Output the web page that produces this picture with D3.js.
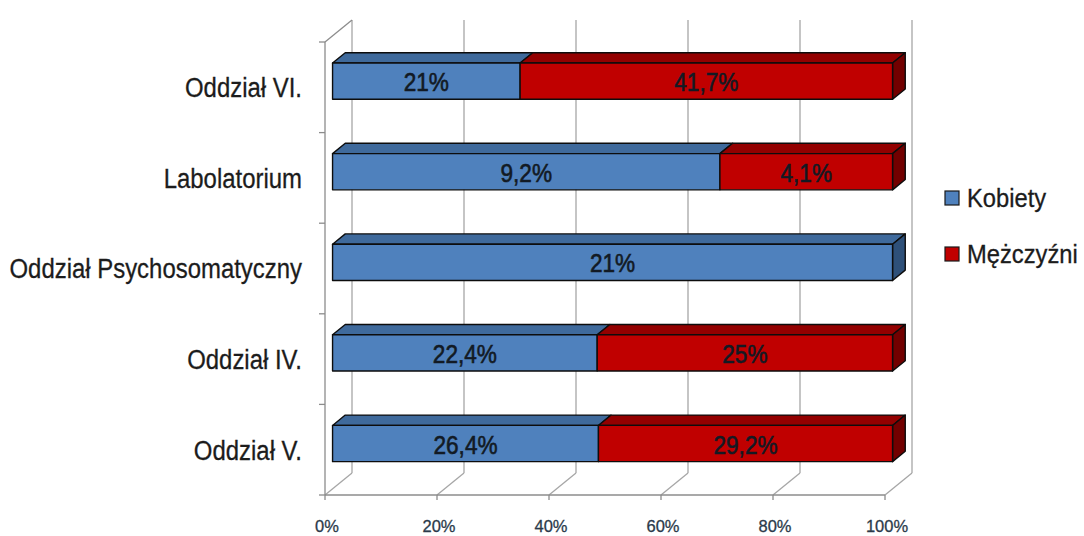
<!DOCTYPE html>
<html>
<head>
<meta charset="utf-8">
<script src="https://cdn.jsdelivr.net/npm/d3@7"></script>
<style>
  html, body { margin: 0; padding: 0; background: #fff; }
  svg { display: block; }
  text { font-family: "Liberation Sans", Arial, sans-serif; }
</style>
</head>
<body>
<svg id="chart" width="1084" height="536"></svg>
<script>
// Departments, top to bottom
const categories = ["Oddział VI.", "Labolatorium", "Oddział Psychosomatyczny", "Oddział IV.", "Oddział V."];
// Shares per department (percent labels), women and men
const kobiety   = [21, 9.2, 21, 22.4, 26.4];
const mezczyzni = [41.7, 4.1, 0, 25, 29.2];
const seriesNames = ["Kobiety", "Mężczyźni"];
const tickValues = [0, 0.2, 0.4, 0.6, 0.8, 1];
const tickLabels = ["0%", "20%", "40%", "60%", "80%", "100%"];

const svg = d3.select("#chart");

// Plot box (front plane) and depth vector for the 3D look
const plotLeft = 325, plotRight = 885, plotTop = 42, plotBottom = 495;
const depth = { dx: 27, dy: -22 };
const zFront = 0.28, zBack = 0.75;   // bar position inside the depth

const x = d3.scaleLinear().domain([0, 1]).range([plotLeft, plotRight]);
const y = d3.scaleBand().domain(categories).range([plotTop, plotBottom]).paddingInner(0.6).paddingOuter(0.3);

const proj = (px, py, z) => [px + z * depth.dx, py + z * depth.dy];

const gridColor = "#a6a6a6";
const axisColor = "#8c8c8c";

// Condensed text: horizontally squeezed glyphs
function label(g, tx, ty, str, opts) {
  const t = g.append("text")
    .attr("transform", `translate(${tx},${ty}) scale(${opts.sx},1)`)
    .attr("text-anchor", opts.anchor || "start")
    .attr("dy", opts.dy || "0.35em")
    .attr("font-size", opts.size)
    .attr("fill", opts.fill || "#1e1e1e")
    .text(str);
  if (opts.bold) t.attr("stroke", opts.fill || "#1e1e1e").attr("stroke-width", opts.bold);
  return t;
}

// Back wall gridlines and floor diagonals
const grid = svg.append("g");
tickValues.forEach(v => {
  const [bx, byTop] = proj(x(v), plotTop, 1);
  const [, byBot] = proj(x(v), plotBottom, 1);
  grid.append("line").attr("x1", bx).attr("x2", bx).attr("y1", byTop).attr("y2", byBot)
    .attr("stroke", gridColor).attr("stroke-width", 1.3);
  grid.append("line").attr("x1", x(v)).attr("y1", plotBottom).attr("x2", bx).attr("y2", byBot)
    .attr("stroke", gridColor).attr("stroke-width", 1.3);
});
// Left wall: top diagonal
{
  const [bx, by] = proj(x(0), plotTop, 1);
  grid.append("line").attr("x1", x(0)).attr("y1", plotTop).attr("x2", bx).attr("y2", by)
    .attr("stroke", axisColor).attr("stroke-width", 1.3);
}
// Floor front edge
grid.append("line").attr("x1", x(0)).attr("x2", x(1)).attr("y1", plotBottom).attr("y2", plotBottom)
  .attr("stroke", axisColor).attr("stroke-width", 1.3);

// Category axis (front left edge) with ticks
const yAxisG = svg.append("g");
yAxisG.append("line").attr("x1", x(0)).attr("x2", x(0)).attr("y1", plotTop).attr("y2", plotBottom)
  .attr("stroke", axisColor).attr("stroke-width", 1.3);
const bounds = categories.map(c => y(c) - y.step() * y.paddingInner() / 2).concat([plotBottom]);
bounds.forEach(b => {
  yAxisG.append("line").attr("x1", x(0) - 6).attr("x2", x(0)).attr("y1", b).attr("y2", b)
    .attr("stroke", axisColor).attr("stroke-width", 1.3);
});
categories.forEach(c => {
  label(yAxisG, 302, y(c) + y.bandwidth() / 2, c,
    { anchor: "end", size: 28, sx: 0.855, fill: "#1c1c1c", bold: 0.3 });
});

// Value axis ticks and labels
const xAxisG = svg.append("g");
tickValues.forEach((v, i) => {
  xAxisG.append("line").attr("x1", x(v)).attr("x2", x(v)).attr("y1", plotBottom).attr("y2", plotBottom + 5)
    .attr("stroke", axisColor).attr("stroke-width", 1.3);
  label(xAxisG, x(v) + 2, 526, tickLabels[i],
    { anchor: "middle", size: 17, sx: 0.97, fill: "#2b3a4a", bold: 0.3 });
});

// Stacked data normalised to 100%
const rows = categories.map((c, i) => ({ cat: c, Kobiety: kobiety[i], "Mężczyźni": mezczyzni[i] }));
const stack = d3.stack().keys(seriesNames).offset(d3.stackOffsetExpand);
const stacked = stack(rows);

const palette = {
  "Kobiety":   { front: "#4f81bd", top: "#3f6a9c", side: "#2e5079" },
  "Mężczyźni": { front: "#c00000", top: "#930000", side: "#720000" }
};
const fmt = v => String(v).replace(".", ",") + "%";
const poly = pts => pts.map(p => p.join(",")).join(" ");

const bars = svg.append("g");
rows.forEach((row, ri) => {
  const y0 = y(row.cat), y1 = y0 + y.bandwidth();
  const segs = stacked.map(s => ({ key: s.key, a: s[ri][0], b: s[ri][1], val: row[s.key] }))
    .filter(s => s.b - s.a > 0);
  segs.forEach((s, si) => {
    const c = palette[s.key];
    const xa = x(s.a), xb = x(s.b);
    const f00 = proj(xa, y0, zFront), f10 = proj(xb, y0, zFront);
    const f01 = proj(xa, y1, zFront), f11 = proj(xb, y1, zFront);
    const b00 = proj(xa, y0, zBack), b10 = proj(xb, y0, zBack);
    const b11 = proj(xb, y1, zBack);
    // top face
    bars.append("polygon").attr("points", poly([f00, f10, b10, b00]))
      .attr("fill", c.top).attr("stroke", "#0d0d0d").attr("stroke-width", 1.4).attr("stroke-linejoin", "round");
    // right side face of the last segment
    if (si === segs.length - 1) {
      bars.append("polygon").attr("points", poly([f10, b10, b11, f11]))
        .attr("fill", c.side).attr("stroke", "#0d0d0d").attr("stroke-width", 1.4).attr("stroke-linejoin", "round");
    }
    // front face
    bars.append("polygon").attr("points", poly([f00, f10, f11, f01]))
      .attr("fill", c.front).attr("stroke", "#0d0d0d").attr("stroke-width", 1.4).attr("stroke-linejoin", "round");
    // value label
    label(bars, (f00[0] + f10[0]) / 2, (f00[1] + f01[1]) / 2 + 1, fmt(s.val),
      { anchor: "middle", size: 26, sx: 0.87, fill: "#121a24", bold: 0.6 });
  });
});

// Legend
const legend = svg.append("g");
seriesNames.forEach((n, i) => {
  const ly = 198 + i * 56;
  legend.append("rect").attr("x", 945).attr("y", ly - 7).attr("width", 14).attr("height", 14)
    .attr("fill", palette[n].front).attr("stroke", "#1a1a1a").attr("stroke-width", 1.2);
  label(legend, 967, ly, n, { size: 25, sx: 0.95, fill: "#1c1c1c", bold: 0.3 });
});
</script>
</body>
</html>
